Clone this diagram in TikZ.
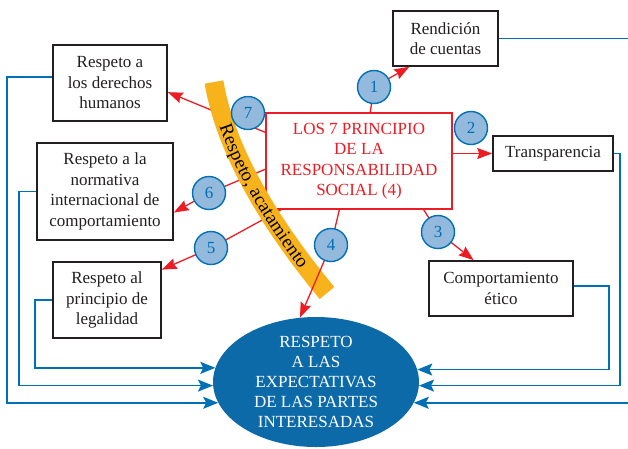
\documentclass[tikz,border=0pt]{standalone}
\usepackage{fontspec}
\setmainfont{Liberation Serif}
\usetikzlibrary{arrows.meta, decorations.text, shapes.geometric}
\definecolor{rojo}{RGB}{237,28,36}
\definecolor{azul}{RGB}{0,112,182}
\definecolor{azulell}{RGB}{12,106,168}
\definecolor{azulclaro}{RGB}{147,185,221}
\definecolor{amarillo}{RGB}{248,178,28}
\definecolor{gris}{RGB}{35,31,32}

\begin{document}
\fontsize{17}{20.5}\selectfont
\begin{tikzpicture}[x=1pt, y=-1pt,
  caja/.style={draw=gris, line width=1.6pt, fill=white, text=gris, align=center, inner sep=0pt},
  cajaroja/.style={draw=rojo, line width=1.3pt, fill=white, text=rojo, align=center, inner sep=0pt, minimum width=186pt, minimum height=96pt},
  flecha/.style={draw=rojo, line width=1.3pt, -{Stealth[length=15pt, width=11pt, inset=2pt]}},
  retorno/.style={draw=azul, line width=1.6pt, -{Stealth[length=15pt, width=12pt, inset=3pt]}},
  num/.style={circle, draw=azul, line width=1.4pt, fill=azulclaro, text=azul, minimum size=33pt, inner sep=0pt},
  banda/.style={amarillo, line width=19pt}]
\clip (0,0) rectangle (628,448);

\coordinate (c1) at (374,87);
\coordinate (c2) at (471,128);
\coordinate (c3) at (438,232);
\coordinate (c4) at (331,245);
\coordinate (c5) at (211,248);
\coordinate (c6) at (209,193);
\coordinate (c7) at (248,113);

\node[caja, minimum width=114pt, minimum height=76pt] (hum) at (110,83) {Respeto a\\los derechos\\humanos};
\node[caja, minimum width=136pt, minimum height=97pt] (norm) at (105,191.5) {Respeto a la\\normativa\\internacional de\\comportamiento};
\node[caja, minimum width=108pt, minimum height=76pt] (leg) at (107,300) {Respeto al\\principio de\\legalidad};
\node[caja, minimum width=105pt, minimum height=55pt] (rend) at (445.5,38.5) {Rendición\\de cuentas};
\node[caja, minimum width=120pt, minimum height=35pt] (transp) at (553,153.5) {Transparencia};
\node[caja, minimum width=144pt, minimum height=55pt] (etico) at (501,288.5) {Comportamiento\\ético};
\node[cajaroja] (principios) at (359,161) {LOS 7 PRINCIPIO\\DE LA\\RESPONSABILIDAD\\SOCIAL (4)};
\node[ellipse, fill=azulell, text=white, align=center, inner sep=0pt, minimum width=206pt, minimum height=130pt, font=\fontsize{17}{20}\selectfont] (ell) at (316,382) {RESPETO\\A LAS\\EXPECTATIVAS\\DE LAS PARTES\\INTERESADAS};

\draw[retorno] (hum.174) -- ++(-45,0) |- (ell.192.2);
\draw[retorno] (norm.west) -- ++(-17,0) |- (ell.182.2);
\draw[retorno] (leg.west) -- ++(-17,0) |- (ell.172.1);
\draw[retorno] (etico.2) -- ++(35,0) |- (ell.7.9);
\draw[retorno] (transp.east) -- ++(6,0) |- (ell.-2.2);
\draw[retorno] (rend.east) -- ++(150,0) |- (ell.-12.2);

\draw[flecha] (principios.77) -- (c1) -- (rend.218);
\draw[flecha] (principios.east |- transp.west) -- (transp.west);
\draw[flecha] (principios.-37) -- (c3) -- (etico.134);
\draw[flecha] (principios.212) -- (c5) -- (leg.29);
\draw[flecha] (principios.185) -- (c6) -- (norm.-17.5);
\draw[flecha] (principios.163) -- (hum.-9);

\draw[banda, postaction={decorate, decoration={text along path, text={|\fontsize{19}{22}\selectfont|Respeto, acatamiento}, text align=left, text align={left indent=44pt}, raise=-6pt}}]
  (214,82) .. controls (222,130) and (250,200) .. (327,293);

\draw[flecha] (principios.-112.6) -- (c4) -- (ell.104);

\node[num] (n1) at (c1) {1};
\node[num] (n2) at (c2) {2};
\node[num] (n3) at (c3) {3};
\node[num] (n4) at (c4) {4};
\node[num] (n5) at (c5) {5};
\node[num] (n6) at (c6) {6};
\node[num] (n7) at (c7) {7};
\end{tikzpicture}
\end{document}
